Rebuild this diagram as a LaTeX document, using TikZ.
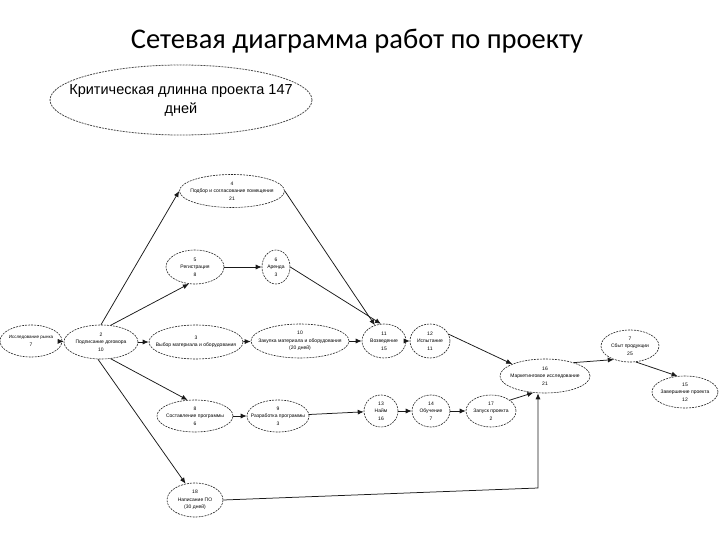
\documentclass[tikz,border=0pt]{standalone}
\usepackage{fontspec}
\setmainfont{Liberation Sans}
\newfontfamily\titlefont{Carlito}
\usetikzlibrary{shapes.geometric,arrows.meta}
\tikzset{
  ev/.style={ellipse, draw=black!85, line width=0.6pt, dash pattern=on 2pt off 1pt, inner sep=0pt},
  lbl/.style={inner sep=0pt, align=center, font=\fontsize{5}{7.5}\selectfont},
  arr/.style={-{Latex[length=6pt,width=5pt]}, line width=0.75pt, black!90}
}
\newcommand\evnode[6]{%
  \node[ev, minimum width=#4pt, minimum height=#5pt] (#1) at (#2,#3) {};
  \node[lbl] (#1-t) at (#1.center) {#6};}
\begin{document}
\begin{tikzpicture}[x=1pt,y=-1pt]
\useasboundingbox (0,0) rectangle (720,540);
\node[font=\titlefont\fontsize{28.5}{32}\selectfont] (title) at (357,41) {Сетевая диаграмма работ по проекту};
\node[ev, line width=0.8pt, draw=black!70, minimum width=262pt, minimum height=70pt] (crit) at (181,100) {};
\node[lbl, font=\fontsize{14.5}{19}\selectfont] (crit-t) at (crit.center) {Критическая длинна проекта 147\\дней};
% nodes
\evnode{n4}{232}{191}{105}{33}{4\\Подбор и согласование помещения\\21}
\evnode{n5}{195}{267}{58}{34}{5\\Регистрация\\8}
\evnode{n6}{276}{267}{28}{34}{6\\Аренда\\3}
\evnode{n1}{31}{341}{62}{32}{\fontsize{4.5}{7.5}\selectfont Исследование рынка\\7}
\evnode{n2}{101}{342}{74}{34}{2\\Подписание договора\\10}
\evnode{n3}{196}{342}{94}{34}{3\\Выбор материала и оборудования}
\evnode{n10}{300}{341}{98}{34}{10\\Закупка материала и оборудования\\(20 дней)}
\evnode{n11}{384}{341}{44}{34}{11\\Возведение\\15}
\evnode{n12}{430}{341}{40}{34}{12\\Испытание\\11}
\evnode{n16}{545}{376}{90}{34}{16\\Маркетинговое исследование\\21}
\evnode{n7}{630}{346}{58}{32}{7\\Сбыт продукции\\25}
\evnode{n15}{685}{392}{66}{32}{15\\Завершение проекта\\12}
\evnode{n8}{195}{416}{76}{32}{8\\Составление программы\\6}
\evnode{n9}{278}{416}{62}{32}{9\\Разработка программы\\3}
\evnode{n13}{381}{411}{34}{32}{13\\Найм\\16}
\evnode{n14}{431}{411}{38}{32}{14\\Обучение\\7}
\evnode{n17}{491}{411}{50}{32}{17\\Запуск проекта\\2}
\evnode{n18}{195}{500}{56}{34}{18\\Написание ПО\\(30 дней)}
\coordinate (bend) at (538,488);
% edges
\draw[arr] (n1) -- (n2);
\draw[arr] (n2) -- (n3);
\draw[arr] (n3) -- (n10);
\draw[arr] (n10) -- (n11);
\draw[arr] (n11) -- (n12);
\draw[arr] (n2.north) -- (n4.west);
\draw[arr] (n2.60) -- (n5.250);
\draw[arr] (n2.-60) -- (n8.115);
\draw[arr] (n2.-100) -- (n18.120);
\draw[arr] (n4.east) -- (n11.120);
\draw[arr] (n6.east) -- (n11.100);
\draw[arr] (n5) -- (n6);
\draw[arr] (n12.20) -- (n16.160);
\draw[arr] (n17.30) -- (n16.235);
\draw[arr] (n18.east) -- (bend) -- (n16.south -| bend);
\draw[arr] (n8) -- (n9);
\draw[arr] (n9) -- (n13);
\draw[arr] (n13) -- (n14);
\draw[arr] (n14) -- (n17);
\draw[arr] (n16.25) -- (n7.220);
\draw[arr] (n7.-70) -- (n15.115);
\end{tikzpicture}
\end{document}
